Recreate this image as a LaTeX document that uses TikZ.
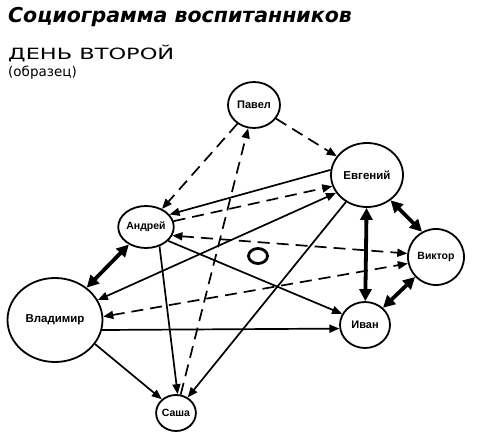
\documentclass[tikz,border=0pt]{standalone}
\usepackage{fontspec}
\setmainfont{DejaVu Sans}
\newfontfamily\labelfont{Liberation Sans}
\newfontfamily\widefont[FakeStretch=1.45]{DejaVu Sans}
\usepackage{tikz}
\usetikzlibrary{arrows.meta,positioning,shapes.geometric}

\tikzset{
  pupil/.style={ellipse, draw, line width=1.8pt, inner sep=0pt, fill=white,
    font=\labelfont\bfseries\fontsize{11}{12}\selectfont},
  choice/.style={line width=1.7pt, -{Triangle[length=10pt,width=8pt]}},
  twochoice/.style={line width=1.7pt, {Triangle[length=10pt,width=8pt]}-{Triangle[length=10pt,width=8pt]}},
  maybe/.style={choice, dash pattern=on 12pt off 7pt},
  twomaybe/.style={twochoice, dash pattern=on 12pt off 7pt},
  mutual/.style={line width=3.8pt, {Triangle[length=12pt,width=12pt]}-{Triangle[length=12pt,width=12pt]}}
}

\begin{document}
\begin{tikzpicture}[x=1pt, y=-1pt]
\useasboundingbox (0,0) rectangle (480,439);

% titles
\node[anchor=base west, inner sep=0pt, font=\bfseries\itshape\fontsize{20.5}{20}\selectfont] (title) at (8,22) {Социограмма воспитанников};
\node[anchor=base west, inner sep=0pt, font=\widefont\fontsize{15.5}{15}\selectfont] (day) at (8,59) {ДЕНЬ ВТОРОЙ};
\node[anchor=base west, inner sep=0pt, font=\fontsize{13.5}{14}\selectfont] (sample) at (8,76) {(образец)};

% pupils
\node[pupil, minimum width=52pt, minimum height=46pt] (pavel) at (254,105) {Павел};
\node[pupil, minimum width=72pt, minimum height=64pt, font=\labelfont\bfseries\fontsize{11.5}{12}\selectfont] (evg) at (367,175) {Евгений};
\node[pupil, minimum width=46pt, minimum height=42pt, font=\labelfont\bfseries\fontsize{10.5}{12}\selectfont] (andr) at (146,227) {Андрей};
\node[pupil, minimum width=95pt, minimum height=84pt, font=\labelfont\bfseries\fontsize{11.5}{12}\selectfont] (vlad) at (55,320) {Владимир};
\node[pupil, minimum width=50pt, minimum height=46pt] (ivan) at (365,325) {Иван};
\node[pupil, minimum width=56pt, minimum height=56pt, font=\labelfont\bfseries\fontsize{10.5}{12}\selectfont] (vikt) at (436,257) {Виктор};
\node[pupil, minimum width=38pt, minimum height=36pt, font=\labelfont\bfseries\fontsize{10.5}{12}\selectfont] (sasha) at (176,413) {Саша};
\node[ellipse, draw, line width=2.8pt, minimum width=19pt, minimum height=15pt, inner sep=0pt] (ring) at (258,256) {};

% dashed choices
\draw[maybe] (pavel) -- (andr);
\draw[maybe] (pavel) -- (evg);
\draw[maybe] (sasha) -- (pavel);
\draw[maybe] (andr.12) -- (evg.198);
\draw[twomaybe] (andr.-18) -- (vikt.173);
\draw[twomaybe] (vlad.4) -- (vikt.193);

% solid choices
\draw[choice] (evg.172) -- (andr.28);
\draw[twochoice] (vlad.25) -- (evg.210);
\draw[choice] (andr.-32) -- (ivan.154);
\draw[choice] (andr.-55) -- (sasha.85);
\draw[choice] (vlad.-12) -- (ivan.188);
\draw[choice] (vlad.-31) -- (sasha.136);
\draw[choice] (evg.-128) -- (sasha.53);

% mutual choices
\draw[mutual] (andr) -- (vlad);
\draw[mutual] (evg) -- (ivan);
\draw[mutual] (evg.-47) -- (vikt.119);
\draw[mutual] (vikt) -- (ivan);
\end{tikzpicture}
\end{document}
